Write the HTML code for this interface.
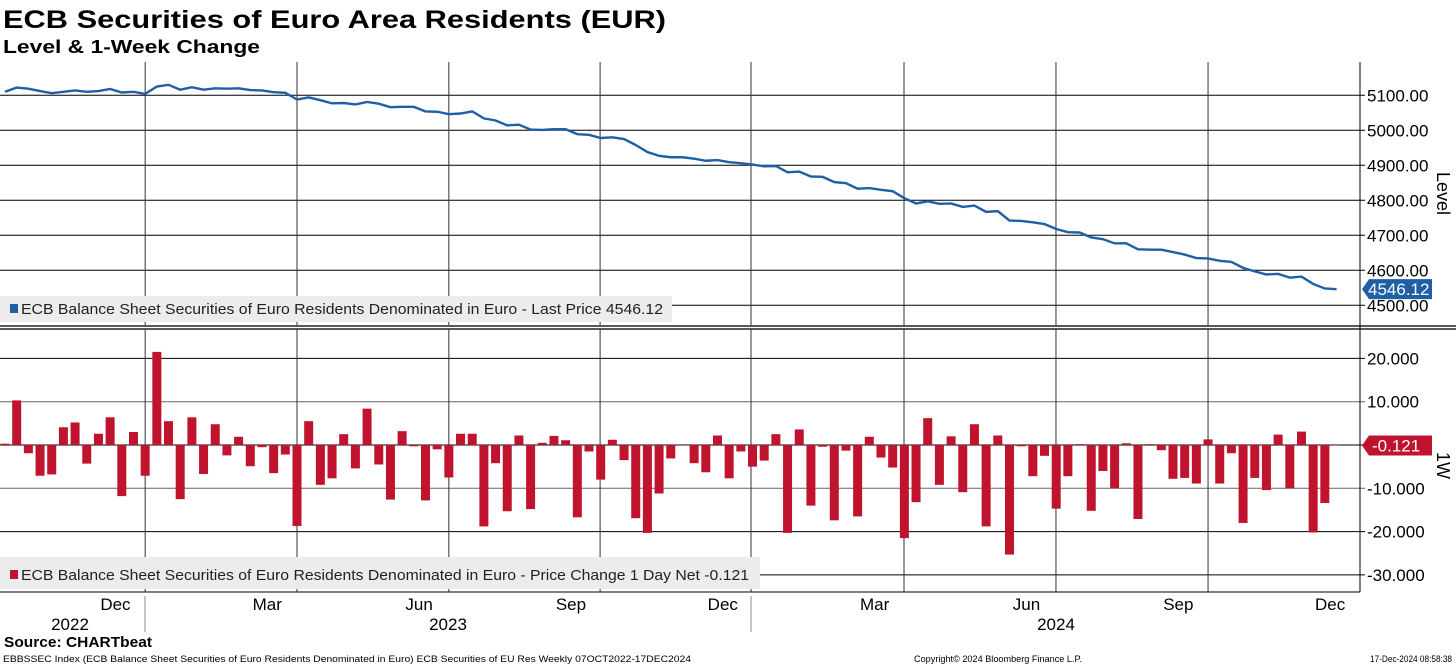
<!DOCTYPE html>
<html><head><meta charset="utf-8"><style>
body{margin:0;background:#fff;font-family:"Liberation Sans",sans-serif}
svg{display:block}
</style></head><body>
<svg id="c" width="1456" height="666" xmlns="http://www.w3.org/2000/svg" font-family="Liberation Sans, sans-serif">
<text x="3" y="28" font-size="25" font-weight="bold" textLength="663" lengthAdjust="spacingAndGlyphs">ECB Securities of Euro Area Residents (EUR)</text>
<text x="3" y="53" font-size="18" font-weight="bold" textLength="257" lengthAdjust="spacingAndGlyphs">Level &amp; 1-Week Change</text>
<g id="grid"></g>
<g id="marks"></g>
<g id="axes"></g>
<text x="4" y="647" font-size="15" font-weight="bold" textLength="148" lengthAdjust="spacingAndGlyphs">Source: CHARTbeat</text>
<text x="3" y="662" font-size="9" textLength="688" lengthAdjust="spacingAndGlyphs">EBBSSEC Index (ECB Balance Sheet Securities of Euro Residents Denominated in Euro) ECB Securities of EU Res  Weekly 07OCT2022-17DEC2024</text>
<text x="914" y="662" font-size="9" textLength="168" lengthAdjust="spacingAndGlyphs">Copyright© 2024 Bloomberg Finance L.P.</text>
<text x="1370" y="662" font-size="9" textLength="82" lengthAdjust="spacingAndGlyphs">17-Dec-2024 08:58:38</text>
</svg>
<script>
const levels=[5110,5122,5119,5112,5106,5110,5114,5110,5112,5118,5108,5110,5104,5125,5130,5116,5123,5116,5120,5119,5120,5115,5114,5109,5107,5088,5094,5086,5077,5078,5074,5081,5076,5066,5067,5067,5054,5053,5046,5048,5054,5034,5028,5014,5016,5002,5001,5003,5003,4989,4987,4978,4980,4975,4958,4938,4927,4923,4923,4919,4913,4915,4909,4906,4902,4897,4898,4880,4882,4868,4867,4852,4849,4833,4835,4830,4826,4806,4791,4797,4790,4791,4781,4785,4767,4769,4742,4741,4737,4732,4718,4709,4708,4694,4689,4677,4677,4660,4659,4659,4652,4645,4635,4634,4627,4624,4607,4597,4588,4590,4579,4582,4561,4548,4546.12];
const changes=[0.3,10.3,-1.9,-7.1,-6.8,4.1,5.2,-4.3,2.6,6.4,-11.8,3.0,-7.1,21.5,5.5,-12.5,6.4,-6.7,4.8,-2.4,1.9,-4.9,-0.5,-6.5,-2.2,-18.7,5.5,-9.2,-7.7,2.5,-5.4,8.4,-4.5,-12.6,3.2,-0.3,-12.8,-1.0,-7.5,2.6,2.6,-18.8,-4.2,-15.3,2.2,-14.8,0.5,2.1,1.1,-16.7,-1.5,-8.0,1.2,-3.5,-16.9,-20.3,-11.2,-3.1,-0.1,-4.2,-6.3,2.2,-7.7,-1.5,-5.0,-3.6,2.5,-20.3,3.6,-14.0,-0.4,-17.4,-1.3,-16.5,1.9,-2.9,-5.2,-21.5,-13.2,6.2,-9.2,2.0,-10.9,4.8,-18.8,2.2,-25.3,-0.3,-7.2,-2.5,-14.7,-7.2,0.2,-15.2,-6.0,-10.0,0.4,-17.1,0.2,-1.2,-7.8,-7.6,-8.9,1.3,-8.9,-1.9,-18.0,-7.6,-10.4,2.4,-10.0,3.1,-20.2,-13.4,-0.121];
const levelTicks=[4500,4600,4700,4800,4900,5000,5100];
const changeTicks=[20,10,0,-10,-20,-30];
const changeTickLabels=["20.000","10.000","","-10.000","-20.000","-30.000"];
const monthLabels=["Dec","Mar","Jun","Sep","Dec","Mar","Jun","Sep","Dec"];
const monthIdx=[8,21,34,47,60,73,86,99,112];
const quarterIdx=[12.0,25.0,38.0,50.95,63.87,76.97,89.98,103.0];
const yearLabels=["2022","2023","2024"];

const NS="http://www.w3.org/2000/svg";
const PR=1360;
const xAt=i=>5+i*11.68;
const yL=v=>95.3+(5100-v)*0.35;
const yC=v=>445-v*4.33;
function mk(tag,attrs,parent,text){const e=document.createElementNS(NS,tag);for(const k in attrs)e.setAttribute(k,attrs[k]);if(text!==undefined)e.textContent=text;parent.appendChild(e);return e;}
const grid=document.getElementById('grid'),marks=document.getElementById('marks'),axes=document.getElementById('axes');

levelTicks.forEach(v=>{
 const l=mk('line',{x1:0,x2:PR+5,y1:yL(v),y2:yL(v),stroke:'#000','stroke-width':1},grid);
 
 
 const t=mk('text',{x:PR+7,y:yL(v)+6,'font-size':17},axes,v.toFixed(2));
 
 
});
changeTicks.forEach((v,k)=>{
 const l=mk('line',{x1:0,x2:PR+5,y1:yC(v),y2:yC(v),stroke:(v===10||v===-10)?'#666':'#000','stroke-width':1},grid);
 
 
 if(changeTickLabels[k]){
 const t=mk('text',{x:PR+7,y:yC(v)+6,'font-size':17},axes,changeTickLabels[k]);
 
 }
});
quarterIdx.forEach(q=>{
 const x=xAt(q);
 const l=mk('line',{x1:x,x2:x,y1:62,y2:592,stroke:'#333','stroke-width':1},grid);
 
 
});
mk('rect',{x:0,y:325,width:1456,height:4,fill:'#fff'},axes);
mk('line',{x1:0,x2:1456,y1:326,y2:326,stroke:'#222','stroke-width':1.5},axes);
mk('line',{x1:0,x2:1456,y1:329,y2:329,stroke:'#222','stroke-width':1.5},axes);
mk('line',{x1:PR,x2:PR,y1:62,y2:592,stroke:'#000','stroke-width':1},axes);
mk('line',{x1:0,x2:PR,y1:592,y2:592,stroke:'#000','stroke-width':1},axes);
const ax=mk('text',{transform:'translate(1437,172) rotate(90)','font-size':18},axes,'Level');


const ax2=mk('text',{transform:'translate(1437,452) rotate(90)','font-size':18},axes,'1W');


changes.forEach((v,i)=>{
 const y=Math.min(yC(v),yC(0)),h=Math.max(Math.abs(yC(v)-yC(0)),0.6);
 const b=mk('rect',{x:xAt(i)-4.5,y:y,width:9,height:h,fill:'#c0132e'},marks);
 
 
});
const ln=mk('polyline',{points:levels.map((v,i)=>xAt(i)+','+yL(v)).join(' '),fill:'none',stroke:'#1f5fa6','stroke-width':2.4},marks);


const lg1=mk('rect',{x:0,y:296,width:672,height:26,fill:'#ececec'},marks);


mk('rect',{x:10,y:304,width:8,height:9,fill:'#1f5fa6'},marks);
mk('text',{x:21,y:314,'font-size':15,fill:'#222',textLength:642,lengthAdjust:'spacingAndGlyphs'},marks,'ECB Balance Sheet Securities of Euro Residents Denominated in Euro - Last Price 4546.12');
const lg2=mk('rect',{x:0,y:557,width:760,height:32,fill:'#ececec'},marks);


mk('rect',{x:10,y:570,width:8,height:9,fill:'#c0132e'},marks);
mk('text',{x:21,y:580,'font-size':15,fill:'#222',textLength:728,lengthAdjust:'spacingAndGlyphs'},marks,'ECB Balance Sheet Securities of Euro Residents Denominated in Euro - Price Change 1 Day Net -0.121');
const lv=levels[levels.length-1],ly=yL(lv);
mk('path',{d:`M${PR+2},${ly} L${PR+9},${ly-10} H1432 V${ly+10} H${PR+9} Z`,fill:'#1f5fa6'},axes);
const lt=mk('text',{x:PR+8,y:ly+6,'font-size':17,fill:'#fff'},axes,lv.toFixed(2));


const cv=changes[changes.length-1],cy=yC(cv);
mk('path',{d:`M${PR+2},${cy} L${PR+9},${cy-10} H1432 V${cy+10} H${PR+9} Z`,fill:'#c0132e'},axes);
const ct=mk('text',{x:PR+12,y:cy+6,'font-size':17,fill:'#fff'},axes,cv.toFixed(3));


monthLabels.forEach((m,k)=>{
 const t=mk('text',{x:xAt(monthIdx[k])+17,y:610,'font-size':17,'text-anchor':'middle'},axes,m);
 
 
});
[[70,0],[448,1],[1056,2]].forEach(([x,k])=>{
 const t=mk('text',{x:x,y:630,'font-size':17,'text-anchor':'middle'},axes,yearLabels[k]);
 
 
});
[145,751].forEach(x=>mk('line',{x1:x,x2:x,y1:596,y2:632,stroke:'#888'},axes));
</script>
</body></html>
